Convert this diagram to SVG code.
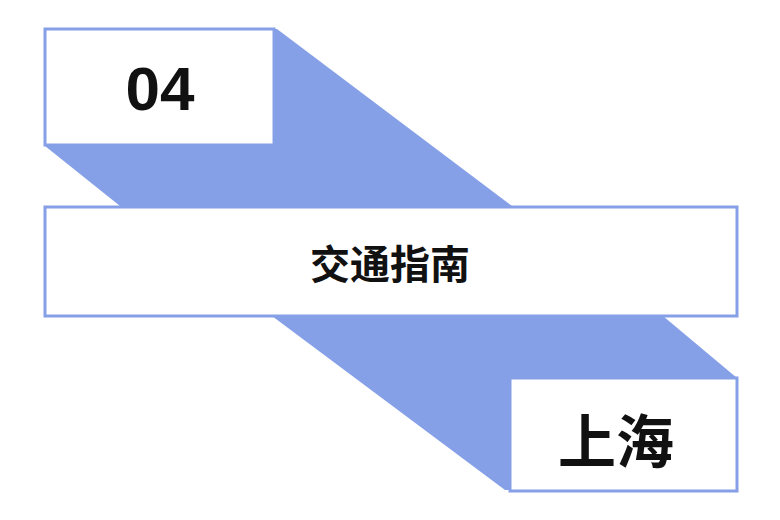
<svg xmlns="http://www.w3.org/2000/svg" width="780" height="520" viewBox="0 0 780 520">
<style>
.band{fill:#86a0e8}
.box{fill:#fff;stroke:#86a0e8;stroke-width:3}
.t{font-family:"Liberation Sans","Noto Sans CJK SC",sans-serif;font-weight:bold;fill:#111;text-anchor:middle}
</style>
<rect width="780" height="520" fill="#fff"/>
<g id="connectors">
<polygon class="band" points="270,29 277,29 512,206 120,206 45,146 45,140"/>
<polygon class="band" points="272,316 663,316 737,378 737,490 505,490"/>
</g>
<g id="n04"><rect class="box" x="45" y="29" width="229" height="116"/><text class="t" x="160" y="110" font-size="62">04</text></g>
<g id="mid"><rect class="box" x="45" y="207" width="692" height="109"/><text class="t" x="390" y="279" font-size="40">交通指南</text></g>
<g id="sh"><rect class="box" x="510" y="378" width="227" height="113"/><text class="t" x="616" y="463" font-size="58">上海</text></g>
</svg>
